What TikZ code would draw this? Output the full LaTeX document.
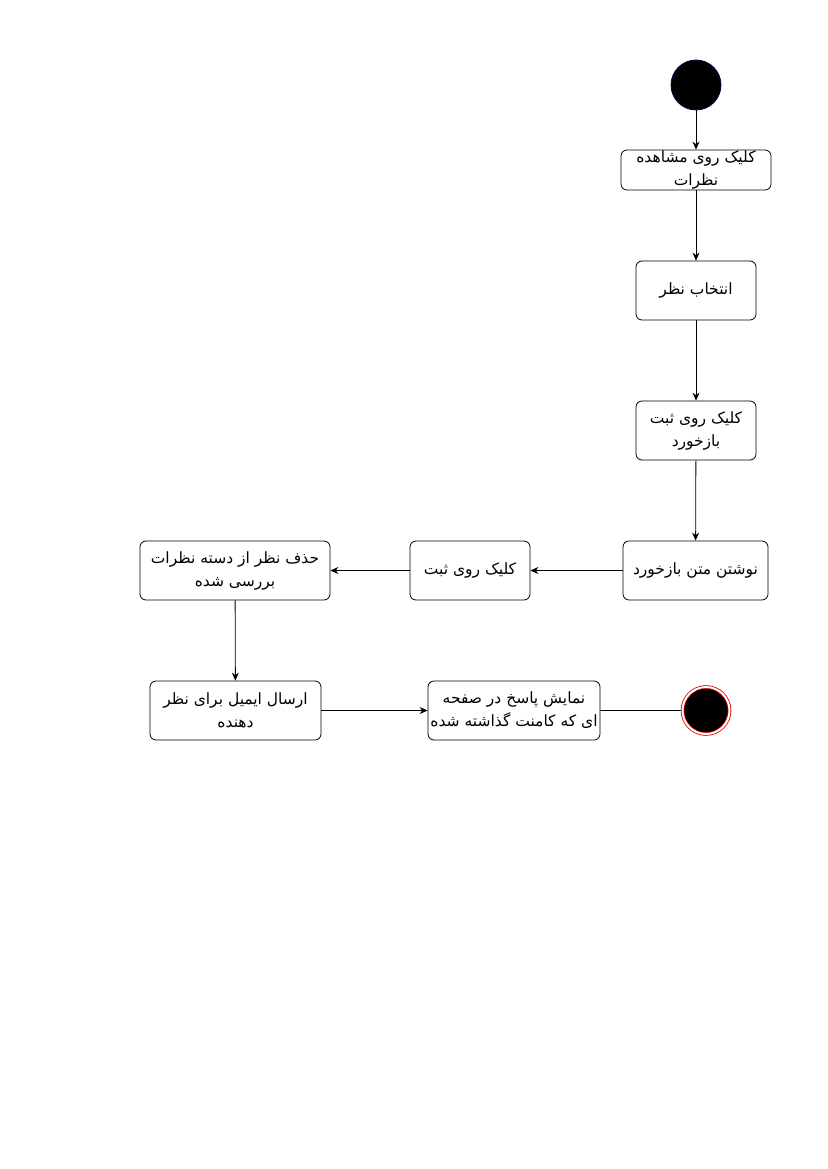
\documentclass[tikz,border=0pt]{standalone}
\usepackage{fontspec}
\newfontfamily\arabicfont[Script=Arabic]{DejaVu Sans}
\TeXXeTstate=1
\usetikzlibrary{arrows.meta,backgrounds}
\begin{document}
\begin{tikzpicture}[x=1pt,y=-1pt,
  act/.style={draw=black,rounded corners=6pt,fill=white,inner sep=0pt,align=center,
    font=\arabicfont\fontsize{15.5pt}{23pt}\selectfont,line width=0.8pt},
  flow/.style={-{Stealth[length=8pt,width=7pt]},line width=0.8pt}]
\useasboundingbox (0,0) rectangle (827,1169);
\node[circle,fill=black,draw={rgb,255:red,0;green,0;blue,80},line width=0.8pt,minimum size=50pt,inner sep=0pt] (st) at (696,85) {};
\node[act,minimum width=150pt,minimum height=40pt] (b1) at (696,170) {\beginR کلیک روی مشاهده\endR\\\beginR نظرات\endR};
\node[act,minimum width=120pt,minimum height=59pt] (b2) at (696,290.5) {\beginR انتخاب نظر\endR};
\node[act,minimum width=120pt,minimum height=59pt] (b3) at (696,430.5) {\beginR کلیک روی ثبت\endR\\\beginR بازخورد\endR};
\node[act,minimum width=145pt,minimum height=59pt] (b4) at (695.5,570.5) {\beginR نوشتن متن بازخورد\endR};
\node[act,minimum width=120pt,minimum height=59pt] (b5) at (470,570.5) {\beginR کلیک روی ثبت\endR};
\node[act,minimum width=190pt,minimum height=59pt] (b6) at (235,570.5) {\beginR حذف نظر از دسته نظرات\endR\\\beginR بررسی شده\endR};
\node[act,minimum width=171pt,minimum height=59pt] (b7) at (235.5,710.5) {\beginR ارسال ایمیل برای نظر\endR\\\beginR دهنده\endR};
\node[act,minimum width=172pt,minimum height=59pt] (b8) at (514,710.5) {\beginR نمایش پاسخ در صفحه\endR\\\beginR ای که کامنت گذاشته شده\endR};
\node[circle,fill=black,draw=red!85!black,line width=0.8pt,double=white,double distance=2pt,minimum size=47pt,inner sep=0pt] (fin) at (706,710.5) {};
\draw[flow] (st) -- (b1);
\draw[flow] (b1) -- (b2);
\draw[flow] (b2) -- (b3);
\draw[flow] (b3) -- (b4);
\draw[flow] (b4) -- (b5);
\draw[flow] (b5) -- (b6);
\draw[flow] (b6) -- (b7);
\draw[flow] (b7) -- (b8);
\begin{scope}[on background layer]
\draw[flow,shorten >=-8pt] (b8.east) -- (fin.west);
\end{scope}
\end{tikzpicture}
\end{document}
